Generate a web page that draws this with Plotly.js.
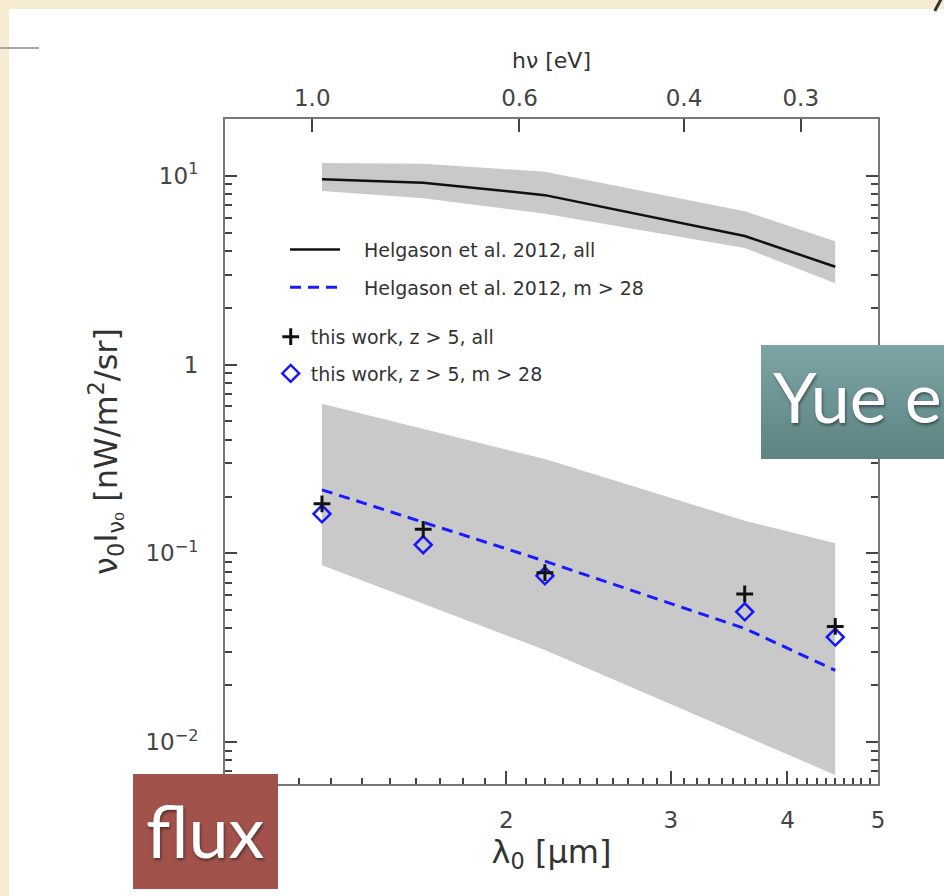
<!DOCTYPE html>
<html>
<head>
<meta charset="utf-8">
<script src="https://cdn.plot.ly/plotly-3.0.1.min.js"></script>
<style>
html,body{margin:0;padding:0;width:944px;height:896px;overflow:hidden;background:#f6edd0;}
#panel{position:absolute;left:9px;top:9px;right:0;bottom:0;background:#ffffff;}
#leftline{position:absolute;left:0;top:47px;width:39px;height:2px;background:#a8a8a8;}
#corner{position:absolute;left:937px;top:-4px;width:3px;height:16px;background:#333;transform:rotate(28deg);}
#plot{position:absolute;left:0;top:0;width:944px;height:896px;}
.tag{position:absolute;color:#fff;font-family:Lato,"Open Sans",sans-serif;line-height:1;text-shadow:1px 2px 3px rgba(0,0,0,0.45);white-space:nowrap;overflow:hidden;box-sizing:border-box;}
#yue{left:761px;top:345px;width:183px;height:114px;background:linear-gradient(#7ea5a5,#5c8282);padding-left:12px;padding-top:16px;font-size:70px;}
#flux{left:133px;top:774px;width:145px;height:115px;background:#a0524b;padding-left:13px;padding-top:20px;font-size:72px;}
</style>
</head>
<body>
<div id="panel"></div>
<div id="leftline"></div>
<div id="corner"></div>
<div id="plot"></div>
<div id="yue" class="tag">Yue e</div>
<div id="flux" class="tag">flux</div>
<script>
// wavelengths of the bands [micron]
const lambda = [1.27, 1.63, 2.2, 3.6, 4.5];
// Helgason et al. 2012, all
const helgAll   = [9.6, 9.2, 7.9, 4.8, 3.3];
const helgAllHi = [11.7, 11.6, 10.5, 6.5, 4.5];
const helgAllLo = [8.3, 7.6, 6.3, 4.15, 2.7];
// Helgason et al. 2012, m > 28
const helgM28   = [0.217, 0.146, 0.091, 0.040, 0.024];
// this work shaded range
const workHi = [0.62, 0.455, 0.316, 0.149, 0.113];
const workLo = [0.0865, 0.054, 0.0308, 0.0108, 0.0067];
// this work points
const workAll = [0.183, 0.134, 0.079, 0.061, 0.041];
const workM28 = [0.162, 0.111, 0.076, 0.049, 0.036];

// ticks
const xMajor = [2, 3, 4, 5];
const xMajorText = ['2', '3', '4', '5'];
const xMinor = [1.1,1.2,1.3,1.4,1.5,1.6,1.7,1.8,1.9,
                2.1,2.2,2.3,2.4,2.5,2.6,2.7,2.8,2.9,
                3.1,3.2,3.3,3.4,3.5,3.6,3.7,3.8,3.9,
                4.1,4.2,4.3,4.4,4.5,4.6,4.7,4.8,4.9];
const eVTicks = [1.0, 0.6, 0.4, 0.3];
const eVText = ['1.0', '0.6', '0.4', '0.3'];
const yMajor = [0.01, 0.1, 1, 10];
const yMajorText = ['10<sup>−2</sup>', '10<sup>−1</sup>', '1', '10<sup>1</sup>'];
const yMinor = [0.007,0.008,0.009,
                0.02,0.03,0.04,0.05,0.06,0.07,0.08,0.09,
                0.2,0.3,0.4,0.5,0.6,0.7,0.8,0.9,
                2,3,4,5,6,7,8,9];

const HC = 1.23984; // eV * micron
const eVPos = eVTicks.map(e => HC / e);
const revLam = lambda.slice().reverse();
const SP = '\u2002\u2002';

const traces = [
  {x: lambda.concat(revLam), y: helgAllHi.concat(helgAllLo.slice().reverse()),
   fill: 'toself', fillcolor: '#c9c9c9', line: {width: 0}, mode: 'lines',
   showlegend: false, hoverinfo: 'skip'},
  {x: lambda.concat(revLam), y: workHi.concat(workLo.slice().reverse()),
   fill: 'toself', fillcolor: '#c9c9c9', line: {width: 0}, mode: 'lines',
   showlegend: false, hoverinfo: 'skip'},
  {x: lambda, y: helgAll, mode: 'lines', line: {color: '#111', width: 2.5},
   name: SP + 'Helgason et al. 2012, all', legend: 'legend', legendgroup: 'a', legendrank: 1},
  {x: lambda, y: helgM28, mode: 'lines', line: {color: '#1a1aff', width: 3, dash: '11px,7px'},
   name: SP + 'Helgason et al. 2012, m > 28', legend: 'legend', legendgroup: 'b', legendrank: 2},
  {x: lambda, y: workM28, mode: 'markers',
   marker: {symbol: 'diamond-open', size: 13, color: '#1515ff', line: {width: 2.5, color: '#1515ff'}},
   name: 'this work, z > 5, m > 28', legend: 'legend2', legendgroup: 'd', legendrank: 4},
  {x: lambda, y: workAll, mode: 'markers',
   marker: {symbol: 'cross-thin-open', size: 12, color: '#111', line: {width: 3, color: '#111'}},
   name: 'this work, z > 5, all', legend: 'legend2', legendgroup: 'c', legendrank: 3},
  {x: lambda, y: workAll, xaxis: 'x2', mode: 'markers', marker: {opacity: 0},
   showlegend: false, hoverinfo: 'skip'}
];

const axColor = '#777';
const tkColor = '#444';
const xr = [0, Math.log10(5)];
const layout = {
  width: 944, height: 896,
  paper_bgcolor: 'rgba(0,0,0,0)', plot_bgcolor: '#ffffff',
  margin: {l: 225, r: 66, t: 119, b: 112, pad: 0},
  font: {family: 'DejaVu Sans', color: '#333', size: 19},
  showlegend: true,
  xaxis: {type: 'log', range: xr, tickvals: xMajor, ticktext: xMajorText,
    ticks: 'inside', ticklen: 13, tickwidth: 2, tickcolor: tkColor,
    showline: true, linecolor: axColor, linewidth: 2, mirror: false,
    showgrid: false, zeroline: false, tickfont: {size: 23, color: '#444'},
    ticklabelstandoff: 14,
    minor: {tickvals: xMinor, ticks: 'inside', ticklen: 6, tickwidth: 2, tickcolor: tkColor, showgrid: false},
    title: {text: 'λ<sub>0</sub> [μm]', font: {size: 32, color: '#333'}, standoff: 6}},
  xaxis2: {type: 'log', overlaying: 'x', side: 'top', range: xr,
    tickvals: eVPos, ticktext: eVText,
    ticks: 'inside', ticklen: 13, tickwidth: 2, tickcolor: tkColor,
    showline: true, linecolor: axColor, linewidth: 2,
    showgrid: false, zeroline: false, tickfont: {size: 23, color: '#444'},
    ticklabelstandoff: 2,
    title: {text: 'hν [eV]', font: {size: 22, color: '#333'}, standoff: 10}},
  yaxis: {type: 'log', range: [Math.log10(0.006), Math.log10(20)],
    tickvals: yMajor, ticktext: yMajorText,
    ticks: 'inside', ticklen: 12, tickwidth: 2, tickcolor: tkColor,
    showline: true, linecolor: axColor, linewidth: 2, mirror: 'ticks',
    showgrid: false, zeroline: false, tickfont: {size: 23, color: '#444'},
    ticklabelstandoff: 20,
    minor: {tickvals: yMinor, ticks: 'inside', ticklen: 7, tickwidth: 2, tickcolor: tkColor, showgrid: false},
    title: {text: 'ν<sub>0</sub>I<sub>ν₀</sub> [nW/m<sup>2</sup>/sr]', font: {size: 32, color: '#333'}, standoff: 18}},
  legend: {x: 0.0919, y: 0.832, xanchor: 'left', yanchor: 'top',
    bgcolor: 'rgba(0,0,0,0)', borderwidth: 0, font: {size: 19, color: '#333'},
    itemwidth: 50, traceorder: 'grouped', tracegroupgap: 10},
  legend2: {x: 0.07, y: 0.701, xanchor: 'left', yanchor: 'top',
    bgcolor: 'rgba(0,0,0,0)', borderwidth: 0, font: {size: 19, color: '#333'},
    itemwidth: 30, traceorder: 'grouped', tracegroupgap: 9}
};

Plotly.newPlot('plot', traces, layout, {staticPlot: true, displayModeBar: false});
</script>
</body>
</html>
